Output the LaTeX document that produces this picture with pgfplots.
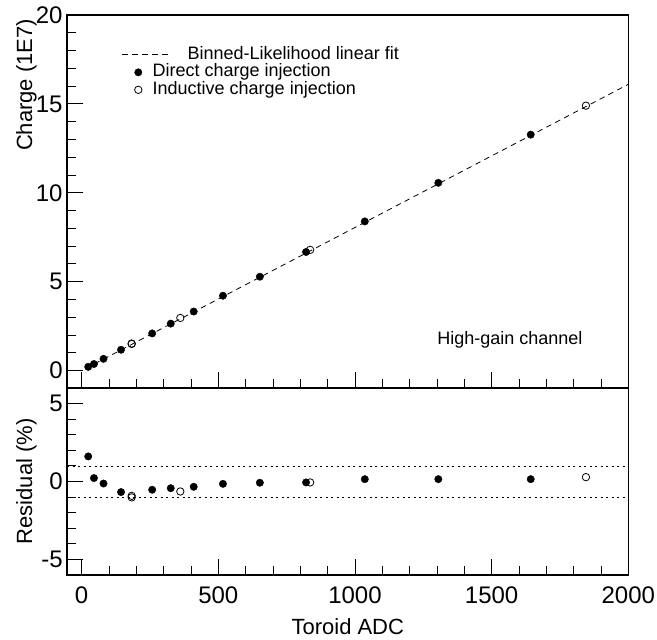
\documentclass[border=0pt]{standalone}
\usepackage{fontspec}
\setmainfont{Liberation Sans}
\usepackage{pgfplots}
\pgfplotsset{compat=1.18}

\pgfplotsset{rootstyle/.style={
  scale only axis, width=561pt, xmin=-52.5, xmax=2000,
  axis line style={line width=1.6pt},
  tick pos=left, tick align=inside,
  major tick length=16pt, minor tick length=8.5pt,
  every tick/.append style={black, line width=0.9pt},
  xtick={0,500,1000,1500,2000}, minor x tick num=4,
  minor y tick num=4,
  /pgf/number format/assume math mode=true,
  /pgf/number format/1000 sep={},
  tick label style={font=\fontsize{24}{24}\selectfont},
  yticklabel style={inner sep=0pt, anchor=east, xshift=-4.5pt},
  xticklabel style={inner sep=0pt, anchor=north, yshift=-12pt},
  label style={font=\fontsize{22}{22}\selectfont},
}}
\pgfplotsset{
  fitlegend/.style={legend image code/.code={\draw[##1, overlay] (-11pt,0pt) -- (39pt,0pt); \path (0pt,0pt) (10pt,0pt);}},
  marklegend/.style={legend image code/.code={\draw[##1] plot coordinates {(5pt,0pt)}; \path (0pt,0pt) (10pt,0pt);}},
}

\begin{document}
\begin{tikzpicture}
\path[use as bounding box] (-67.3pt,-65pt) rectangle (589.7pt,575pt);

% ---------------- top panel ----------------
\begin{axis}[rootstyle, at={(0pt,187pt)}, anchor=south west,
  height=373pt, ymin=-0.98, ymax=20,
  ytick={0,5,10,15,20}, xticklabels={},
  ylabel={Charge (1E7)},
  ylabel style={at={(axis description cs:-0.054,0.990)}, anchor=south east, inner sep=0pt},
  legend style={at={(axis description cs:0.1166,0.9165)}, anchor=north west,
    draw=none, fill=none, inner sep=0pt, column sep=9pt, row sep=0.5pt,
    font=\fontsize{18}{18}\selectfont,
    nodes={inner sep=0pt, text height=13pt, text depth=4pt}},
  legend cell align=left,
]
\addplot[black, line width=0.8pt, dash pattern=on 5.5pt off 4.5pt, fitlegend]
  coordinates {(15,0.12) (2000,16.1)};
\addlegendentry{\hspace{35pt}Binned-Likelihood linear fit}

\addplot[only marks, mark=*, mark size=3.7pt, black, mark options={fill=black}, marklegend]
  coordinates {
  (24,0.21) (45,0.37) (80,0.66) (144,1.17) (258,2.09) (326,2.64) (410,3.32)
  (517,4.21) (652,5.28) (821,6.67) (1036,8.39) (1305,10.56) (1643,13.27)};
\addlegendentry{Direct charge injection}

\addplot[only marks, mark=o, mark size=3.7pt, black, mark options={line width=0.8pt}, marklegend]
  coordinates {
  (183,1.50) (183,1.52) (361,2.96) (836,6.79) (1845,14.90)};
\addlegendentry{Inductive charge injection}

\node[anchor=base west, font=\fontsize{18}{18}\selectfont, inner sep=0pt] at (axis cs:1301,1.45) {High-gain channel};
\end{axis}

% ---------------- bottom panel ----------------
\begin{axis}[rootstyle, at={(0pt,0pt)}, anchor=south west,
  height=187pt, ymin=-6, ymax=6,
  ytick={-5,0,5},
  xlabel={Toroid ADC},
  xlabel style={at={(axis description cs:0.5,-0.3155)}, anchor=base, inner sep=0pt},
  ylabel={Residual (\%)},
  ylabel style={at={(axis description cs:-0.054,0.5)}, anchor=south, inner sep=0pt},
]
\addplot[black, line width=0.8pt, dash pattern=on 2pt off 3.5pt] coordinates {(-52.5,1) (2000,1)};
\addplot[black, line width=0.8pt, dash pattern=on 2pt off 3.5pt] coordinates {(-52.5,-1) (2000,-1)};

\addplot[only marks, mark=*, mark size=3.7pt, black, mark options={fill=black}]
  coordinates {
  (24,1.61) (45,0.22) (80,-0.13) (144,-0.68) (258,-0.53) (326,-0.43) (410,-0.34)
  (517,-0.15) (652,-0.08) (821,-0.06) (1036,0.15) (1305,0.15) (1643,0.15)};

\addplot[only marks, mark=o, mark size=3.7pt, black, mark options={line width=0.8pt}]
  coordinates {
  (183,-0.92) (183,-1.02) (361,-0.64) (836,-0.06) (1845,0.28)};
\end{axis}
\end{tikzpicture}
\end{document}
